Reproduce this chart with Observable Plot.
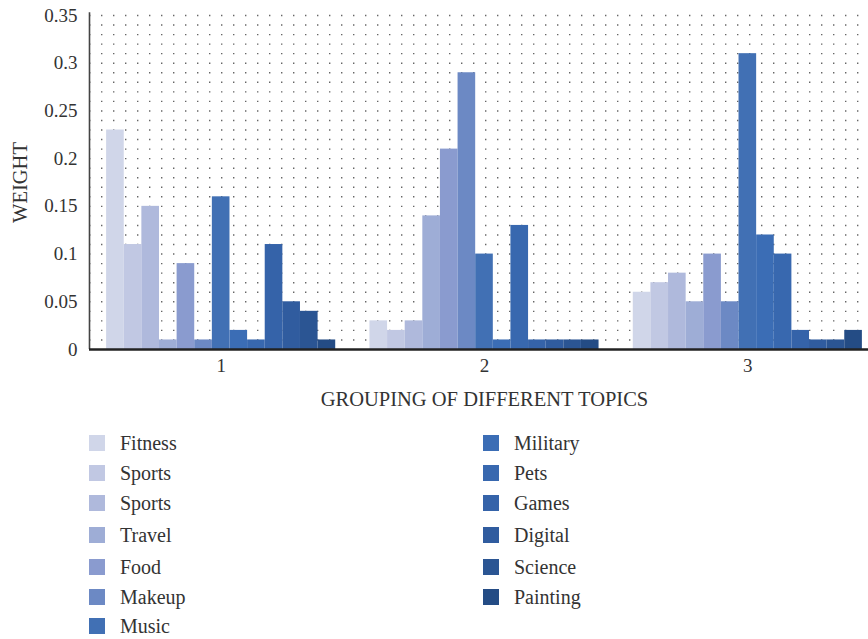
<!DOCTYPE html>
<html>
<head>
<meta charset="utf-8">
<script src="https://cdn.jsdelivr.net/npm/d3@7"></script>
<script src="https://cdn.jsdelivr.net/npm/@observablehq/plot@0.6"></script>
<style>
  html, body { margin: 0; padding: 0; background: #fff; }
  #wrap { width: 868px; overflow: hidden; position: relative; font-family: "Liberation Serif", "Times New Roman", serif; }
  #chart svg { display: block; max-width: none; }
  #chart svg g[aria-label="x-axis label"] text, #chart svg g[aria-label="y-axis label"] text { font-size: 20.5px; }
  #legend { position: relative; height: 224px; }
  .col { position: absolute; top: 0; }
  .item { position: absolute; left: 0; height: 20px; display: flex; align-items: center; white-space: nowrap; font-size: 20px; color: #333; }
  .sw { width: 16px; height: 16px; margin-right: 15px; }
</style>
</head>
<body>
<div id="wrap">
  <div id="chart"></div>
  <div id="legend"></div>
</div>
<script>
// Topics (in bar order within each group) and their fills
const topics = ["Fitness", "Sports", "Sports", "Travel", "Food", "Makeup", "Music",
                "Military", "Pets", "Games", "Digital", "Science", "Painting"];
const topicColors = ["#d0d6e9", "#c1c8e3", "#afb9dc", "#9eadd6", "#8a9bcf", "#6c89c4", "#4170b4",
                     "#3b6db5", "#3868af", "#3563a9", "#305c9f", "#2b5593", "#244c85"];

// Groups on the x axis
const groups = ["1", "2", "3"];

// Weight of each topic, per group
const group1 = [0.23, 0.11, 0.15, 0.01, 0.09, 0.01, 0.16, 0.02, 0.01, 0.11, 0.05, 0.04, 0.01];
const group2 = [0.03, 0.02, 0.03, 0.14, 0.21, 0.29, 0.10, 0.01, 0.13, 0.01, 0.01, 0.01, 0.01];
const group3 = [0.06, 0.07, 0.08, 0.05, 0.10, 0.05, 0.31, 0.12, 0.10, 0.02, 0.01, 0.01, 0.02];

// Axis ticks
const yTicks = [0, 0.05, 0.1, 0.15, 0.2, 0.25, 0.3, 0.35];
const gridLevels = d3.range(1, 36).map(k => k / 100);

// Bars fill 87% of each group slot, side by side with no gaps
const groupFill = 0.87;
const barW = groupFill / topics.length;

const rows = [group1, group2, group3].flatMap((vals, g) =>
  vals.map((value, i) => ({group: g + 1, i, topic: topics[i], value}))
);

const chart = Plot.plot({
  width: 880,
  height: 415,
  marginLeft: 89,
  marginRight: 1,
  marginTop: 15,
  marginBottom: 66,
  style: {fontFamily: "Liberation Serif, Times New Roman, serif", fontSize: "19px", color: "#333", background: "#fff"},
  x: {
    type: "linear",
    domain: [0.5, 3.5],
    ticks: [1, 2, 3],
    tickSize: 0,
    tickPadding: 9,
    tickFormat: d => groups[d - 1],
    label: "GROUPING OF DIFFERENT TOPICS",
    labelArrow: false,
    labelAnchor: "center",
    labelOffset: 56
  },
  y: {
    domain: [0, 0.35],
    ticks: yTicks,
    tickSize: 0,
    tickPadding: 12,
    tickFormat: d => `${+d.toFixed(2)}`,
    label: "WEIGHT",
    labelArrow: false,
    labelAnchor: "center",
    labelOffset: 77
  },
  color: {type: "ordinal", domain: d3.range(topics.length), range: topicColors},
  marks: [
    // dotted background grid
    Plot.ruleY(gridLevels, {stroke: "#666", strokeWidth: 1.4, strokeDasharray: "1.4 10.6"}),
    Plot.rectY(rows, {
      x1: d => d.group - groupFill / 2 + d.i * barW,
      x2: d => d.group - groupFill / 2 + (d.i + 1) * barW,
      y: "value",
      fill: "i"
    }),
    Plot.ruleX([0.5], {y1: 0, y2: 0.353, stroke: "#444", strokeWidth: 1.6}),
    Plot.ruleY([0], {stroke: "#222", strokeWidth: 2.4})
  ]
});
document.getElementById("chart").appendChild(chart);

// Two-column legend below the plot
const legend = d3.select("#legend");
const columns = [
  {left: 89, items: d3.range(0, 7)},
  {left: 483, items: d3.range(7, 13)}
];
const rowTops = [18, 48, 78, 110, 142, 172, 201];
for (const c of columns) {
  const col = legend.append("div").attr("class", "col").style("left", `${c.left}px`);
  c.items.forEach((idx, r) => {
    const item = col.append("div").attr("class", "item").style("top", `${rowTops[r]}px`);
    item.append("div").attr("class", "sw").style("background", topicColors[idx]);
    item.append("span").text(topics[idx]);
  });
}
</script>
</body>
</html>
